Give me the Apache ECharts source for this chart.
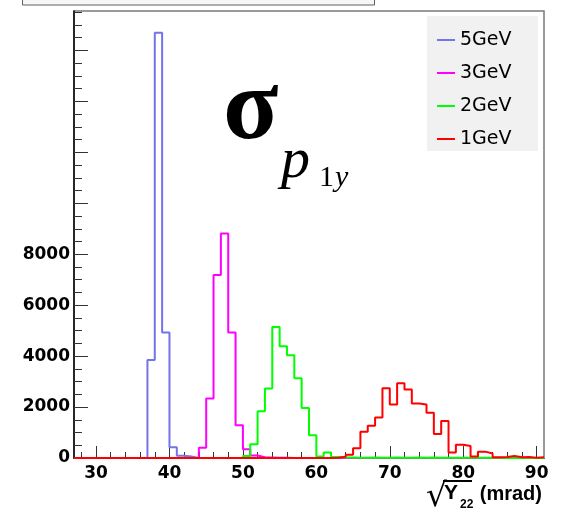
<!DOCTYPE html>
<html>
<head>
<meta charset="utf-8">
<script src="https://cdn.jsdelivr.net/npm/echarts@6/dist/echarts.min.js"></script>
<style>html,body{margin:0;padding:0;background:#fff;}#c{width:561px;height:510px;}</style>
</head>
<body>
<div id="c"></div>
<script>
// Histogram bins: width 1 mrad, lower edges 27 .. 90
const xMin = 27;
const xMax = 91;
const yMax = 17550;
const seriesNames = ['5GeV', '3GeV', '2GeV', '1GeV'];
const seriesColors = ['#7373ea', '#ff00ff', '#00ff00', '#ff0000'];

// bin contents, first entry = bin [27,28)
const blue5GeV = [0,0,0,0,0,0,0,0,0,0,
  3850,16700,4930,420,90,60,
  0,0,0,0,0,0,0,0,0,0,0,0,0,0,0,0,0,0,0,0,0,0,0,0,0,0,0,0,0,0,0,0,0,0,0,0,0,0,0,0,0,0,0,0,0,0,0,0];
const pink3GeV = [0,0,0,0,0,0,0,0,0,0,0,0,0,0,0,0,0,
  400,2340,7180,8810,4930,1290,340,100,30,20,10,10,
  0,0,0,0,0,0,0,0,0,0,0,0,0,0,0,0,0,0,0,0,0,0,0,0,0,0,0,0,0,0,0,0,0,0,0];
const green2GeV = [0,0,0,0,0,0,0,0,0,0,0,0,0,0,0,0,0,0,0,0,0,0,0,
  80,540,1840,2730,5140,4390,4030,3130,1960,890,60,220,40,20,
  20,10,10,20,10,10,20,10,10,20,10,20,10,10,10,10,10,10,10,10,10,
  0,0,0,0,0,0];
const red1GeV = [0,0,0,0,0,0,0,0,0,0,0,0,0,0,0,0,0,0,0,0,0,0,0,0,0,0,0,0,0,0,0,0,0,0,0,
  10,50,130,380,1030,1270,1590,2740,2100,2930,2690,2140,2100,1780,940,1450,220,520,470,60,250,180,30,40,80,30,40,10,30];

const xTickLabels = [30,40,50,60,70,80,90];
const xMinorTicks = [28,32,34,36,38,42,44,46,48,52,54,56,58,62,64,66,68,72,74,76,78,82,84,86,88];
const yTickLabels = [0,2000,4000,6000,8000];
const yMajorTicks = [0,2000,4000,6000,8000,10000,12000,14000,16000];
const yMinorTicks = [500,1000,1500,2500,3000,3500,4500,5000,5500,6500,7000,7500,8500,9000,9500,10500,11000,11500,12500,13000,13500,14500,15000,15500,16500,17000,17500];

function histData(vals) {
  const d = vals.map((v, i) => [xMin + i, v]);
  d.push([xMax, vals[vals.length - 1]]);
  return d;
}

const allVals = [blue5GeV, pink3GeV, green2GeV, red1GeV];
const chart = echarts.init(document.getElementById('c'), null, {renderer: 'canvas'});

const labelFont = {fontFamily: 'DejaVu Sans', fontWeight: 'bold', fontSize: 17, color: '#000'};

const option = {
  animation: false,
  backgroundColor: '#ffffff',
  grid: {left: 74, right: 17, top: 11, bottom: 52, show: true, borderColor: '#7a7a7a', borderWidth: 1.5, backgroundColor: 'transparent'},
  xAxis: [
    {type: 'value', min: xMin, max: xMax, position: 'bottom',
     axisLine: {show: true, onZero: false, lineStyle: {color: '#000', width: 1}},
     axisTick: {show: true, inside: true, length: 12, customValues: xTickLabels, lineStyle: {color: '#333', width: 1}},
     axisLabel: Object.assign({customValues: xTickLabels, margin: 7, formatter: v => String(v)}, labelFont),
     splitLine: {show: false}},
    {type: 'value', min: xMin, max: xMax, position: 'bottom',
     axisLine: {show: false, onZero: false},
     axisTick: {show: true, inside: true, length: 6, customValues: xMinorTicks, lineStyle: {color: '#333', width: 1}},
     axisLabel: {show: false, customValues: xMinorTicks},
     splitLine: {show: false}}
  ],
  yAxis: [
    {type: 'value', min: 0, max: yMax, position: 'left',
     axisLine: {show: true, onZero: false, lineStyle: {color: '#000', width: 1.5}},
     axisTick: {show: true, inside: true, length: 14, customValues: yMajorTicks, lineStyle: {color: '#333', width: 1}},
     axisLabel: Object.assign({customValues: yTickLabels, margin: 4, formatter: v => String(v)}, labelFont),
     splitLine: {show: false}},
    {type: 'value', min: 0, max: yMax, position: 'left',
     axisLine: {show: false, onZero: false},
     axisTick: {show: true, inside: true, length: 8, customValues: yMinorTicks, lineStyle: {color: '#333', width: 1}},
     axisLabel: {show: false, customValues: yMinorTicks},
     splitLine: {show: false}}
  ],
  legend: {
    orient: 'vertical', left: 432, top: 25, itemWidth: 18, itemHeight: 2, itemGap: 13,
    icon: 'rect', itemStyle: {borderWidth: 0},
    textStyle: {fontFamily: 'DejaVu Sans', fontSize: 19, color: '#000', lineHeight: 20},
    data: seriesNames
  },
  series: seriesNames.map((n, k) => ({
    name: n, type: 'line', step: 'end', xAxisIndex: 0, yAxisIndex: 0,
    data: histData(allVals[k]), showSymbol: false, symbol: 'none',
    lineStyle: {color: seriesColors[k], width: 2},
    itemStyle: {color: seriesColors[k]},
    z: 2 + k
  })),
  graphic: [
    {type: 'rect', z: 0, shape: {x: 427, y: 16, width: 111, height: 135}, style: {fill: '#f1f1f1'}},
    {type: 'rect', z: 0, shape: {x: 22.5, y: -5, width: 352, height: 10}, style: {fill: '#f7f7f7', stroke: '#606060', lineWidth: 1}},
    {type: 'text', z: 10, style: {text: 'σ', x: 223, y: 112, font: 'bold 102px "Liberation Serif"', fill: '#000', textVerticalAlign: 'middle'}},
    {type: 'text', z: 10, style: {text: 'p', x: 281, y: 162, font: 'italic 58px "Liberation Serif"', fill: '#000', textVerticalAlign: 'middle'}},
    {type: 'text', z: 10, style: {text: '1', x: 319, y: 178, font: '30px "Liberation Serif"', fill: '#000', textVerticalAlign: 'middle'}},
    {type: 'text', z: 10, style: {text: 'y', x: 335, y: 178, font: 'italic 30px "Liberation Serif"', fill: '#000', textVerticalAlign: 'middle'}},
    {type: 'text', z: 10, style: {text: '√', x: 426, y: 497, font: '33px "DejaVu Sans"', fill: '#000', textVerticalAlign: 'middle'}},
    {type: 'line', z: 10, shape: {x1: 443, y1: 481, x2: 472, y2: 481}, style: {stroke: '#000', lineWidth: 2}},
    {type: 'text', z: 10, style: {text: 'Y', x: 444, y: 493, font: 'bold 21px "Liberation Sans"', fill: '#000', textVerticalAlign: 'middle'}},
    {type: 'text', z: 10, style: {text: '22', x: 460, y: 505, font: 'bold 12px "Liberation Sans"', fill: '#000', textVerticalAlign: 'middle'}},
    {type: 'text', z: 10, style: {text: '(mrad)', x: 542, y: 494, font: 'bold 20px "Liberation Sans"', fill: '#000', textAlign: 'right', textVerticalAlign: 'middle'}}
  ]
};
chart.setOption(option);
</script>
</body>
</html>
